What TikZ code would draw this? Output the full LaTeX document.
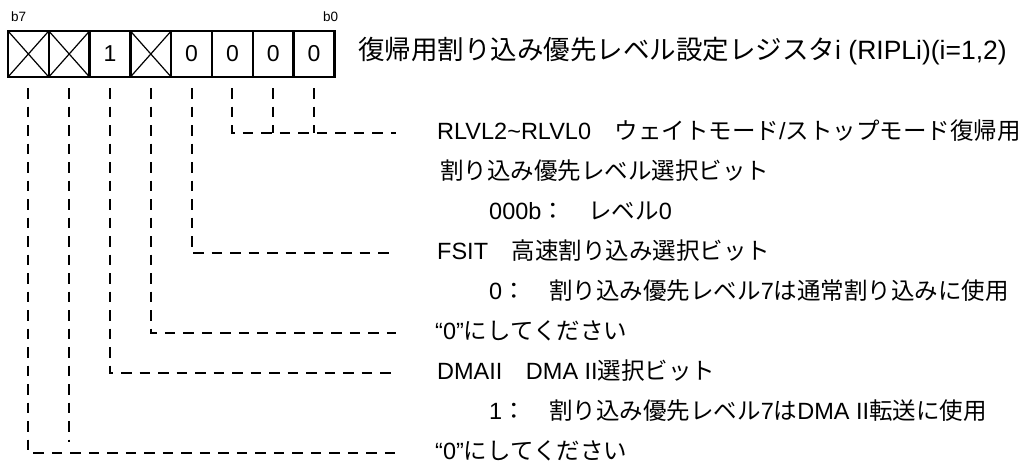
\documentclass[tikz,border=0pt]{standalone}
\usepackage{fontspec}
\setmainfont{Liberation Sans}
\newfontfamily\jpfont{Noto Sans CJK JP}
\usepackage{tikz}
\usetikzlibrary{positioning}
\newcommand{\jp}[1]{{\jpfont #1}}

\begin{document}
\begin{tikzpicture}[
            x=1pt, y=-1pt,
            cell/.style={rectangle, draw, line width=2.5pt, minimum width=40.8pt, minimum height=46pt, inner sep=0pt, outer sep=0pt, font=\fontsize{23}{27}\selectfont},
            xcell/.style={cell, path picture={
                \draw[line width=1.2pt] (path picture bounding box.north west) -- (path picture bounding box.south east);
                \draw[line width=1.2pt] (path picture bounding box.south west) -- (path picture bounding box.north east);}},
            bitlbl/.style={inner sep=0pt, font=\fontsize{13.5}{15}\selectfont},
            desc/.style={anchor=west, inner sep=0pt, text height=17pt, text depth=4pt, font=\fontsize{23.5}{27}\selectfont},
            leader/.style={line width=2pt, dash pattern=on 10.5pt off 8pt}
        ]
            \useasboundingbox (0,0) rectangle (1033,466);

            % register bits
            \node[xcell] (c7) at (28.4,54) {};
            \node[xcell, right=0pt of c7] (c6) {};
            \node[cell, right=0pt of c6] (c5) {1};
            \node[xcell, right=0pt of c5] (c4) {};
            \node[cell, right=0pt of c4] (c3) {0};
            \node[cell, right=0pt of c3] (c2) {0};
            \node[cell, right=0pt of c2] (c1) {0};
            \node[cell, right=0pt of c1] (c0) {0};

            \node[bitlbl, anchor=south west] (lb7) at ([xshift=3pt, yshift=9pt]c7.north west) {b7};
            \node[bitlbl, anchor=south east] (lb0) at ([xshift=4pt, yshift=9pt]c0.north east) {b0};

            \node[anchor=west, inner sep=0pt, font=\fontsize{26.5}{30}\selectfont] (title) at (358,51)
                {\jp{復帰用割り込み優先レベル設定レジスタ}i (RIPLi)(i=1,2)};

            % descriptions
            \node[desc] (t1) at (437,133) {RLVL2\textasciitilde RLVL0\jp{　ウェイトモード}/\jp{ストップモード復帰用}};
            \node[desc] (t2) at (440,173) {\jp{割り込み優先レベル選択ビット}};
            \node[desc] (t3) at (489,213) {000b\jp{：　レベル}0};
            \node[desc] (t4) at (437,253) {FSIT\jp{　高速割り込み選択ビット}};
            \node[desc] (t5) at (489,293) {0\jp{：　割り込み優先レベル}7\jp{は通常割り込みに使用}};
            \node[desc] (t6) at (435,333) {“0”\jp{にしてください}};
            \node[desc] (t7) at (437,373) {DMAII\jp{　}DMA II\jp{選択ビット}};
            \node[desc] (t8) at (489,413) {1\jp{：　割り込み優先レベル}7\jp{は}DMA II\jp{転送に使用}};
            \node[desc] (t9) at (435,453) {“0”\jp{にしてください}};

            % leaders
            \draw[leader, shorten <=11pt] (c0.south) -- (c0.south |- t1.west);
            \draw[leader, shorten <=11pt] (c1.south) -- (c1.south |- t1.west);
            \draw[leader, shorten <=11pt, shorten >=41pt] (c2.south) |- (t1.west);
            \draw[leader, shorten <=11pt, shorten >=41pt] (c3.south) |- (t4.west);
            \draw[leader, shorten <=11pt, shorten >=39pt] (c4.south) |- (t6.west);
            \draw[leader, shorten <=11pt, shorten >=41pt] (c5.south) |- (t7.west);
            \draw[leader, shorten <=11pt, shorten >=11pt] (c6.south) -- (c6.south |- t9.west);
            \draw[leader, shorten <=11pt, shorten >=39pt] (c7.south) |- (t9.west);
        \end{tikzpicture}
\end{document}
